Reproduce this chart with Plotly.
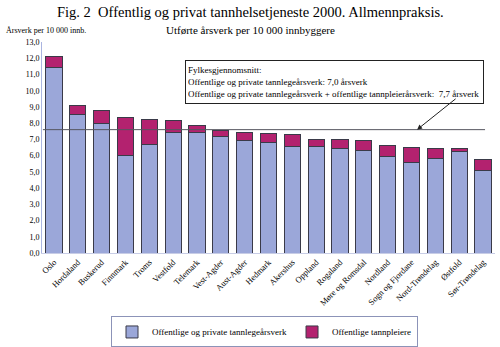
import plotly.graph_objects as go

categories = ["Oslo", "Hordaland", "Buskerud", "Finnmark", "Troms", "Vestfold", "Telemark",
              "Vest-Agder", "Aust-Agder", "Hedmark", "Akershus", "Oppland", "Rogaland",
              "Møre og Romsdal", "Nordland", "Sogn og Fjordane", "Nord-Trøndelag", "Østfold",
              "Sør-Trøndelag"]
tannlege = [11.45, 8.51, 7.98, 6.03, 6.70, 7.42, 7.44, 7.17, 6.91, 6.80, 6.56, 6.56, 6.46,
            6.31, 5.94, 5.57, 5.84, 6.25, 5.06]
totals = [12.1, 9.08, 8.78, 8.35, 8.24, 8.14, 7.83, 7.54, 7.42, 7.34, 7.28, 7.01, 6.97,
          6.91, 6.60, 6.52, 6.46, 6.42, 5.74]
tannpleier = [round(t - l, 2) for t, l in zip(totals, tannlege)]
avg_line = 7.6
y_ticks = [i for i in range(0, 14)]

SERIF = "Liberation Serif"
BLUE = "#9ba7d9"
MAGENTA = "#b3226f"
EDGE = "#3a3a48"

fig = go.Figure()
fig.add_trace(go.Bar(x=categories, y=tannlege, name="Offentlige og private tannlegeårsverk",
                     marker=dict(color=BLUE, line=dict(color=EDGE, width=1))))
fig.add_trace(go.Bar(x=categories, y=tannpleier, name="Offentlige tannpleiere",
                     marker=dict(color=MAGENTA, line=dict(color=EDGE, width=1))))

fig.add_shape(type="line", xref="paper", yref="y", x0=0.002, x1=0.978, y0=avg_line, y1=avg_line,
              line=dict(color="#55555f", width=1))

fig.add_annotation(xref="paper", yref="paper", x=0.316, y=0.915, xanchor="left", yanchor="top",
                   text="Fylkesgjennomsnitt:<br>Offentlige og private tannlegeårsverk: 7,0 årsverk<br>"
                        "Offentlige og private tannlegeårsverk + offentlige tannpleierårsverk:  7,7 årsverk",
                   showarrow=False, align="left", width=293, height=38,
                   bordercolor="#222", borderwidth=1, borderpad=2, bgcolor="white",
                   font=dict(family=SERIF, size=9, color="black"))

fig.add_annotation(xref="paper", yref="y", x=0.828, y=avg_line, ax=40, ay=-32, text="",
                   showarrow=True, arrowhead=2, arrowsize=1, arrowwidth=1, arrowcolor="#222")

fig.add_annotation(xref="paper", yref="paper", x=0.46, y=1.0, yshift=20, xanchor="center", yanchor="bottom",
                   text="Fig. 2  Offentlig og privat tannhelsetjeneste 2000. Allmennpraksis.",
                   showarrow=False, font=dict(family=SERIF, size=14.5, color="black"))
fig.add_annotation(xref="paper", yref="paper", x=0.46, y=1.0, yshift=4, xanchor="center", yanchor="bottom",
                   text="Utførte årsverk per 10 000 innbyggere",
                   showarrow=False, font=dict(family=SERIF, size=11, color="black"))
fig.add_annotation(xref="paper", yref="paper", x=-0.083, y=1.0, yshift=5, xanchor="left", yanchor="bottom",
                   text="Årsverk per 10 000 innb.",
                   showarrow=False, font=dict(family=SERIF, size=8, color="black"))

fig.update_layout(
    width=500, height=347, barmode="stack", bargap=0.32,
    margin=dict(l=42, r=5, t=42, b=94),
    paper_bgcolor="white", plot_bgcolor="white",
    separators=", ",
    font=dict(family=SERIF, size=8, color="black"),
    xaxis=dict(showline=True, linecolor="#c8cde6", tickangle=-45, ticks="",
               tickfont=dict(family=SERIF, size=8.5), showgrid=False),
    yaxis=dict(range=[0, 13], tickvals=y_ticks, tickformat=".1f", showline=True,
               linecolor="#aab4e0", showgrid=False, ticks="", zeroline=False,
               tickfont=dict(family=SERIF, size=8)),
    legend=dict(orientation="h", xref="container", yref="container", x=0.222, y=0.088,
                xanchor="left", yanchor="top",
                bordercolor="#8c93b8", borderwidth=1, bgcolor="white",
                font=dict(family=SERIF, size=9), traceorder="normal",
                itemwidth=30),
    showlegend=True,
)

fig.write_html("out.html")
